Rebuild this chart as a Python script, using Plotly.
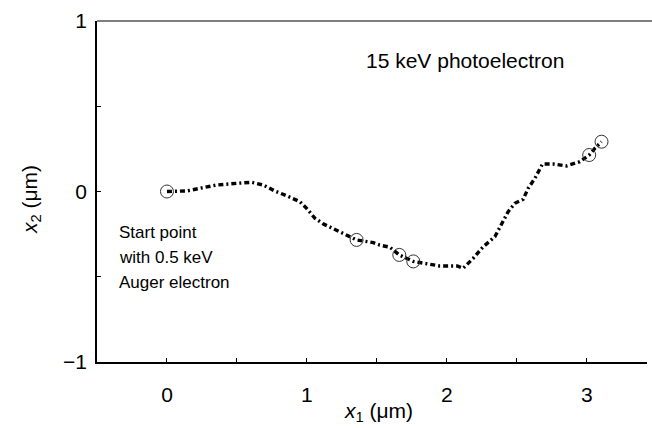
import plotly.graph_objects as go

# electron track (µm)
track_x1 = [0.0, 0.14, 0.236, 0.355, 0.498, 0.605, 0.688, 0.771, 0.855, 0.95, 0.998, 1.057,
            1.117, 1.212, 1.307, 1.355, 1.474, 1.52, 1.593, 1.66, 1.76, 1.855, 1.95, 2.074,
            2.117, 2.188, 2.26, 2.343, 2.39, 2.438, 2.486, 2.545, 2.581, 2.629, 2.683, 2.76,
            2.855, 2.95, 3.017, 3.057, 3.105]
track_x2 = [0.0, 0.003, 0.019, 0.038, 0.048, 0.054, 0.038, 0.003, -0.025, -0.06, -0.099, -0.157,
            -0.19, -0.226, -0.261, -0.284, -0.3, -0.314, -0.327, -0.372, -0.41, -0.425, -0.437, -0.437,
            -0.45, -0.392, -0.324, -0.265, -0.187, -0.118, -0.069, -0.046, 0.019, 0.077, 0.161, 0.161,
            0.15, 0.175, 0.214, 0.253, 0.292]

# interaction points (circles)
event_x1 = [0.0, 1.355, 1.66, 1.76, 3.017, 3.105]
event_x2 = [0.0, -0.284, -0.372, -0.41, 0.214, 0.292]

x_tickvals = [-0.5, 0, 0.5, 1, 1.5, 2, 2.5, 3]
x_ticktext = ["", "0", "", "1", "", "2", "", "3"]
y_tickvals = [-1, -0.5, 0, 0.5, 1]
y_ticktext = ["\u22121", "", "0", "", "1"]

FONT = "Liberation Sans, Arial, Helvetica, sans-serif"

fig = go.Figure()
fig.add_trace(go.Scatter(x=track_x1, y=track_x2, mode="lines",
                         line=dict(color="black", width=3.4, dash="5px,3px,2px,3px"),
                         showlegend=False, hoverinfo="skip"))
fig.add_trace(go.Scatter(x=event_x1, y=event_x2, mode="markers",
                         marker=dict(symbol="circle-open", size=13, color="#333",
                                     line=dict(width=1, color="#333")),
                         showlegend=False, hoverinfo="skip"))

fig.update_layout(
    width=652, height=428,
    margin=dict(l=97, r=5, t=21, b=66),
    paper_bgcolor="white", plot_bgcolor="white",
    font=dict(family=FONT, color="black"),
    xaxis=dict(range=[-0.5, 3.43], tickvals=x_tickvals, ticktext=x_ticktext,
               ticks="inside", ticklen=4, tickwidth=1, tickcolor="black",
               showline=True, linecolor="black", linewidth=1.5,
               showgrid=False, zeroline=False, tickfont=dict(size=21, family=FONT),
               ticklabelstandoff=13),
    yaxis=dict(range=[-1, 1], tickvals=y_tickvals, ticktext=y_ticktext,
               ticks="inside", ticklen=4, tickwidth=1, tickcolor="black",
               showline=True, linecolor="black", linewidth=1.5,
               showgrid=False, zeroline=False, tickfont=dict(size=21, family=FONT),
               ticklabelstandoff=4),
    shapes=[dict(type="line", xref="paper", yref="paper", x0=0, x1=1.02, y0=1, y1=1,
                 line=dict(color="black", width=1.2))],
    annotations=[
        dict(text="<i>x</i><sub>1</sub> (\u03bcm)", xref="paper", yref="paper",
             x=0.511, y=-0.148, showarrow=False, font=dict(size=21, family=FONT),
             xanchor="center", yanchor="middle"),
        dict(text="<i>x</i><sub>2</sub> (\u03bcm)", xref="paper", yref="paper",
             x=-0.12, y=0.475, showarrow=False, textangle=-90,
             font=dict(size=21, family=FONT), xanchor="center", yanchor="middle"),
        dict(text="15 keV photoelectron", x=1.407, y=0.771, xanchor="left",
             yanchor="middle", showarrow=False, font=dict(size=21, family=FONT)),
        dict(text="Start point", x=-0.357, y=(191.5 - 232) / 170.5, xanchor="left",
             yanchor="middle", showarrow=False, font=dict(size=17, family=FONT)),
        dict(text="with 0.5 keV", x=-0.357, y=(191.5 - 257) / 170.5, xanchor="left",
             yanchor="middle", showarrow=False, font=dict(size=17, family=FONT)),
        dict(text="Auger electron", x=-0.357, y=(191.5 - 282) / 170.5, xanchor="left",
             yanchor="middle", showarrow=False, font=dict(size=17, family=FONT)),
    ],
)

fig.write_html("out.html")
